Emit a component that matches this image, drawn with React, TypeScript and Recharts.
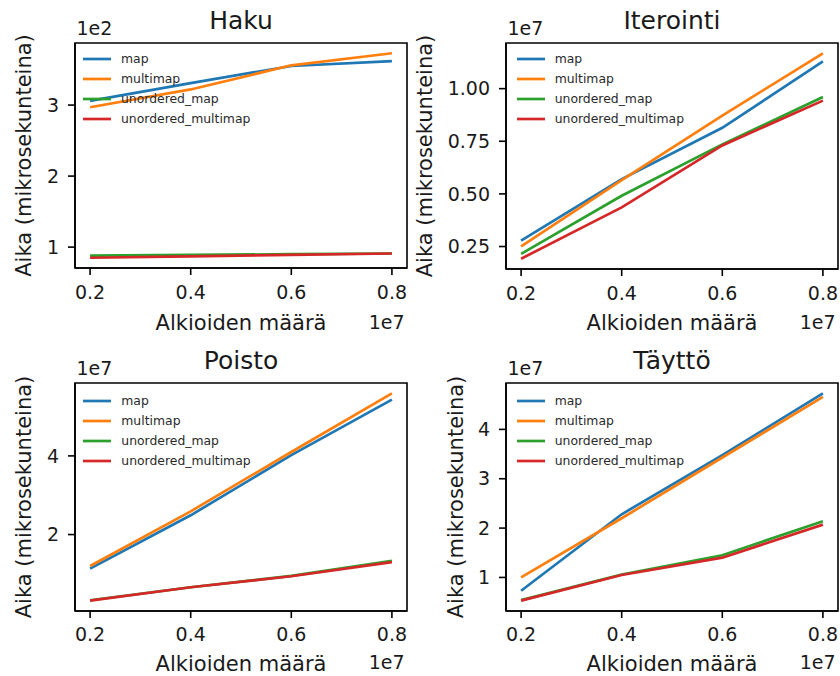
import { LineChart, Line, XAxis, YAxis, Legend, ReferenceArea } from "recharts";

const font = "DejaVu Sans";
const ink = "#1a1a1a";

const sizes = [2000000, 4000000, 6000000, 8000000];
const xTicks = [2000000, 4000000, 6000000, 8000000];
const seriesNames = ["map", "multimap", "unordered_map", "unordered_multimap"];
const seriesColors = ["#1f77b4", "#ff7f0e", "#2ca02c", "#d62728"];

// Haku, microseconds
const hakuMap = [306, 331, 355, 362];
const hakuMultimap = [297, 322, 356, 373];
const hakuUnorderedMap = [88, 89, 90, 91];
const hakuUnorderedMultimap = [85, 87, 89, 91];
const hakuTicks = [100, 200, 300];

// Iterointi
const iterMap = [2780000, 5700000, 8140000, 11290000];
const iterMultimap = [2510000, 5650000, 8720000, 11680000];
const iterUnorderedMap = [2150000, 4910000, 7350000, 9600000];
const iterUnorderedMultimap = [1920000, 4360000, 7300000, 9430000];
const iterTicks = [2500000, 5000000, 7500000, 10000000];

// Poisto
const poistoMap = [11350000, 24900000, 40200000, 54300000];
const poistoMultimap = [12000000, 25900000, 41000000, 55900000];
const poistoUnorderedMap = [3300000, 6600000, 9500000, 13300000];
const poistoUnorderedMultimap = [3200000, 6600000, 9400000, 13000000];
const poistoTicks = [20000000, 40000000];

// Täyttö
const tayttoMap = [7300000, 22800000, 34800000, 47300000];
const tayttoMultimap = [10000000, 22000000, 34300000, 46600000];
const tayttoUnorderedMap = [5400000, 10600000, 14500000, 21400000];
const tayttoUnorderedMultimap = [5300000, 10500000, 14000000, 20700000];
const tayttoTicks = [10000000, 20000000, 30000000, 40000000];

const padded = (vals: number[]): [number, number] => {
  const lo = Math.min(...vals);
  const hi = Math.max(...vals);
  const pad = (hi - lo) * 0.05;
  return [lo - pad, hi + pad];
};

const buildRows = (values: number[][]) =>
  sizes.map((x, i) => {
    const row: any = { x };
    seriesNames.forEach((name, s) => {
      row[name] = values[s][i];
    });
    return row;
  });

const renderLegend = (props: any) => (
  <div style={{ fontFamily: font, fontSize: 12.4, color: "#2a2a2a" }}>
    {(props.payload || []).map((entry: any) => (
      <div
        key={entry.value}
        style={{ display: "flex", alignItems: "center", height: 20 }}
      >
        <svg width={28} height={4} style={{ display: "block" }}>
          <line x1={0} y1={2} x2={28} y2={2} stroke={entry.color} strokeWidth={2.7} />
        </svg>
        <span style={{ marginLeft: 10, lineHeight: "20px", whiteSpace: "nowrap" }}>
          {entry.value}
        </span>
      </div>
    ))}
  </div>
);

type PanelProps = {
  title: string;
  values: number[][];
  yTicks: number[];
  scale: number;
  digits: number;
  offsetLabel: string;
  box: { left: number; top: number; width: number; height: number };
  plot: { left: number; top: number; right: number; bottom: number };
  legendAt: { x: number; y: number };
  yLabelShift: number;
  xLabelGap: number;
  tickGap: number;
};

const Panel = ({
  title,
  values,
  yTicks,
  scale,
  digits,
  offsetLabel,
  box,
  plot,
  legendAt,
  yLabelShift,
  xLabelGap,
  tickGap,
}: PanelProps) => {
  const data = buildRows(values);
  const yDomain = padded(values.flat());
  const xDomain = padded(sizes);
  const pl = plot.left - box.left;
  const pt = plot.top - box.top;
  const pr = plot.right - box.left;
  const pb = plot.bottom - box.top;
  const cx = (pl + pr) / 2;
  const cy = (pt + pb) / 2;

  return (
    <div style={{ position: "absolute", left: box.left, top: box.top }}>
      <LineChart
        width={box.width}
        height={box.height}
        data={data}
        margin={{ top: pt, right: box.width - pr, left: 0, bottom: 0 }}
      >
        <XAxis
          dataKey="x"
          type="number"
          scale="linear"
          domain={xDomain}
          ticks={xTicks}
          tickFormatter={(v: number) => (v / 10000000).toFixed(1)}
          height={box.height - pb}
          tickSize={7}
          tickMargin={tickGap}
          axisLine={{ stroke: "#000", strokeWidth: 1.6 }}
          tickLine={{ stroke: "#000", strokeWidth: 1.6 }}
          tick={{ fill: ink, fontSize: 19, fontFamily: font }}
        />
        <YAxis
          type="number"
          domain={yDomain}
          ticks={yTicks}
          tickFormatter={(v: number) => (v / scale).toFixed(digits)}
          width={pl}
          tickSize={7}
          tickMargin={9}
          axisLine={{ stroke: "#000", strokeWidth: 1.6 }}
          tickLine={{ stroke: "#000", strokeWidth: 1.6 }}
          tick={{ fill: ink, fontSize: 19, fontFamily: font }}
        />
        {seriesNames.map((name, s) => (
          <Line
            key={name}
            type="linear"
            dataKey={name}
            name={name}
            stroke={seriesColors[s]}
            strokeWidth={2.7}
            dot={false}
            activeDot={false}
            isAnimationActive={false}
          />
        ))}
        <ReferenceArea
          x1={xDomain[0]}
          x2={xDomain[1]}
          y1={yDomain[0]}
          y2={yDomain[1]}
          fill="none"
          fillOpacity={0}
          stroke="#000"
          strokeWidth={1.6}
          ifOverflow="visible"
        />
        <Legend
          layout="vertical"
          align="center"
          verticalAlign="middle"
          content={renderLegend}
          wrapperStyle={{
            left: legendAt.x - box.left,
            top: legendAt.y - box.top,
            width: "auto",
          }}
        />
        <text
          x={cx}
          y={pt - 14.5}
          textAnchor="middle"
          fontFamily={font}
          fontSize={25}
          fill={ink}
        >
          {title}
        </text>
        <text x={pl + 1.5} y={pt - 8.5} fontFamily={font} fontSize={19} fill={ink}>
          {offsetLabel}
        </text>
        <text
          x={pr - 2.5}
          y={pb + xLabelGap - 1.5}
          textAnchor="end"
          fontFamily={font}
          fontSize={19}
          fill={ink}
        >
          1e7
        </text>
        <text
          x={cx}
          y={pb + xLabelGap}
          textAnchor="middle"
          fontFamily={font}
          fontSize={21}
          fill={ink}
        >
          Alkioiden määrä
        </text>
        <text
          x={pl + yLabelShift}
          y={cy}
          textAnchor="middle"
          fontFamily={font}
          fontSize={21}
          fill={ink}
          transform={`rotate(-90, ${pl + yLabelShift}, ${cy})`}
        >
          Aika (mikrosekunteina)
        </text>
      </LineChart>
    </div>
  );
};

const App = () => (
  <div
    style={{
      position: "absolute",
      left: 0,
      top: 0,
      width: 840,
      height: 676,
      background: "#fff",
      overflow: "hidden",
    }}
  >
    <Panel
      title="Haku"
      values={[hakuMap, hakuMultimap, hakuUnorderedMap, hakuUnorderedMultimap]}
      yTicks={hakuTicks}
      scale={100}
      digits={0}
      offsetLabel="1e2"
      box={{ left: 0, top: 0, width: 420, height: 338 }}
      plot={{ left: 75, top: 43, right: 407, bottom: 268 }}
      legendAt={{ x: 83, y: 49 }}
      yLabelShift={-44}
      xLabelGap={62}
      tickGap={11}
    />
    <Panel
      title="Iterointi"
      values={[iterMap, iterMultimap, iterUnorderedMap, iterUnorderedMultimap]}
      yTicks={iterTicks}
      scale={10000000}
      digits={2}
      offsetLabel="1e7"
      box={{ left: 410, top: 0, width: 430, height: 338 }}
      plot={{ left: 506, top: 43, right: 838, bottom: 269 }}
      legendAt={{ x: 516.7, y: 49.3 }}
      yLabelShift={-74}
      xLabelGap={61}
      tickGap={11}
    />
    <Panel
      title="Poisto"
      values={[poistoMap, poistoMultimap, poistoUnorderedMap, poistoUnorderedMultimap]}
      yTicks={poistoTicks}
      scale={10000000}
      digits={0}
      offsetLabel="1e7"
      box={{ left: 0, top: 338, width: 420, height: 338 }}
      plot={{ left: 75, top: 383, right: 407, bottom: 611 }}
      legendAt={{ x: 83.3, y: 390.7 }}
      yLabelShift={-44}
      xLabelGap={59.5}
      tickGap={10}
    />
    <Panel
      title="Täyttö"
      values={[tayttoMap, tayttoMultimap, tayttoUnorderedMap, tayttoUnorderedMultimap]}
      yTicks={tayttoTicks}
      scale={10000000}
      digits={0}
      offsetLabel="1e7"
      box={{ left: 410, top: 338, width: 430, height: 338 }}
      plot={{ left: 506, top: 383, right: 838, bottom: 611 }}
      legendAt={{ x: 516.7, y: 391 }}
      yLabelShift={-43}
      xLabelGap={59.5}
      tickGap={10}
    />
  </div>
);

export default App;
